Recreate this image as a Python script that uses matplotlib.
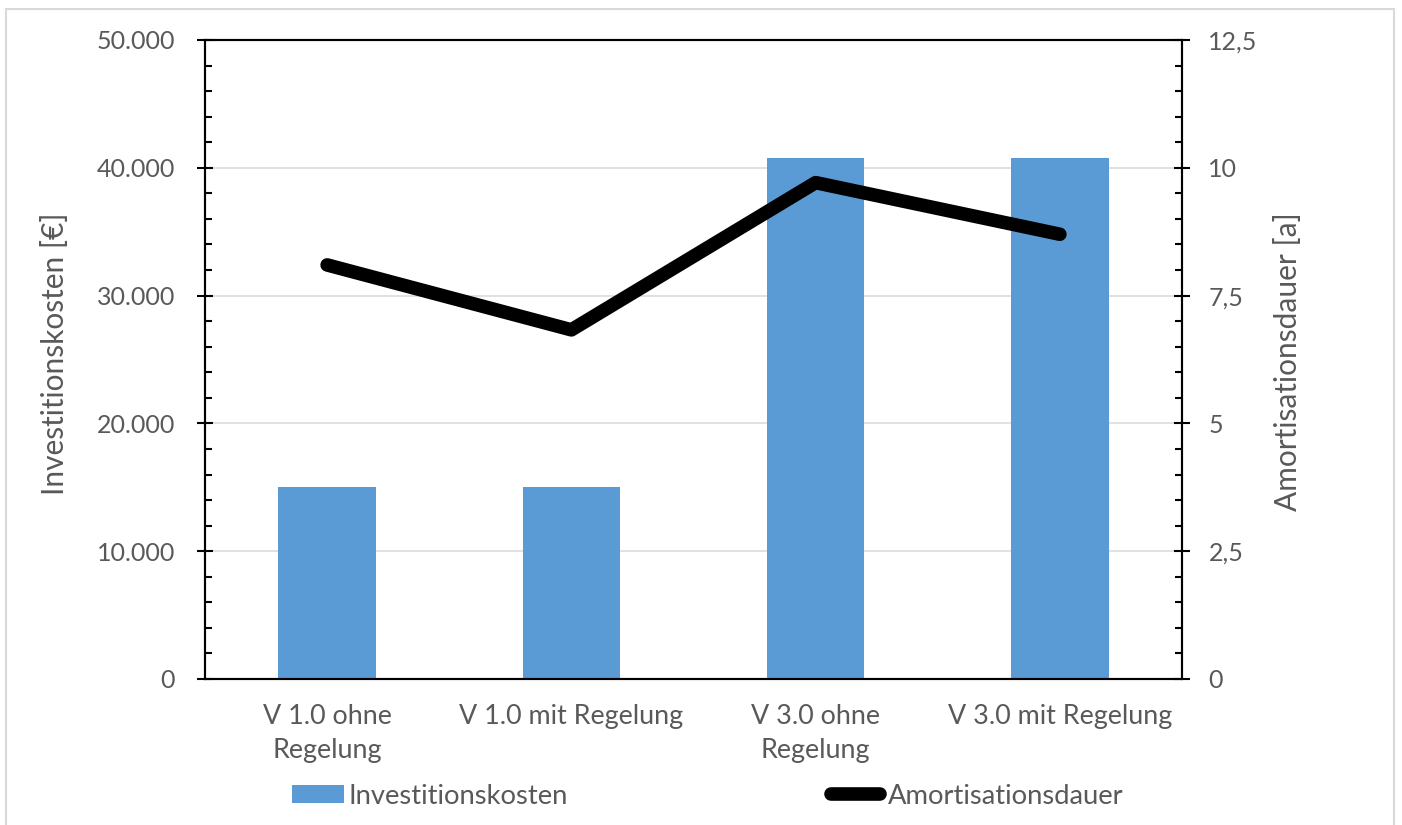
import matplotlib
matplotlib.use("Agg")
import matplotlib.pyplot as plt
from matplotlib.patches import Rectangle, Patch
from matplotlib.lines import Line2D
from matplotlib.ticker import FixedLocator, MultipleLocator, FuncFormatter

# --- data -------------------------------------------------------------
categories = ["V 1.0 ohne\nRegelung", "V 1.0 mit Regelung",
              "V 3.0 ohne\nRegelung", "V 3.0 mit Regelung"]
invest_costs = [15000, 15000, 40800, 40800]          # €
payback_years = [8.10, 6.83, 9.71, 8.70]             # a
left_ticks = [0, 10000, 20000, 30000, 40000, 50000]
right_ticks = [0, 2.5, 5, 7.5, 10, 12.5]
bar_label = "Investitionskosten"
line_label = "Amortisationsdauer"
left_title = "Investitionskosten [€]"
right_title = "Amortisationsdauer [a]"

# --- style ------------------------------------------------------------
W, H = 1402, 825
plt.rcParams["font.family"] = ["Lato", "DejaVu Sans"]
TXT = "#595959"
BAR = "#5B9BD5"
FS_Y = 18
FS_X = 19.4
FS_LEG = 19.7
FS_TITLE = 21.5

fig = plt.figure(figsize=(W / 100, H / 100), dpi=100)

# plot area in pixel coordinates
x0, x1, y_top, y_bot = 205, 1182, 40, 679
ax = fig.add_axes([x0 / W, 1 - y_bot / H, (x1 - x0) / W, (y_bot - y_top) / H])
ax2 = ax.twinx()

xpos = list(range(len(categories)))
ax.bar(xpos, invest_costs, width=0.4, color=BAR, zorder=2)
ax.set_xlim(-0.5, len(categories) - 0.5)
ax.set_ylim(0, 50000)

ax2.plot(xpos, payback_years, color="black", lw=9.8,
         solid_capstyle="round", solid_joinstyle="round", zorder=3)
ax2.set_ylim(0, 12.5)

# grid
ax.yaxis.set_major_locator(FixedLocator(left_ticks))
ax.grid(axis="y", color="#d9d9d9", lw=1.1, zorder=0)
ax.set_axisbelow(True)

# spines
for a in (ax, ax2):
    for s in a.spines.values():
        s.set_color("black")
        s.set_linewidth(1.5)

# left axis ticks
fmt_left = FuncFormatter(lambda v, p: f"{int(v):,}".replace(",", "."))
ax.yaxis.set_major_formatter(fmt_left)
ax.yaxis.set_minor_locator(MultipleLocator(2000))
ax.tick_params(axis="y", which="major", direction="inout", length=12,
               width=1.5, pad=15.5, labelsize=FS_Y, labelcolor=TXT)
ax.tick_params(axis="y", which="minor", direction="in", length=5, width=1.5)

# right axis ticks
fmt_right = FuncFormatter(lambda v, p: (f"{v:g}").replace(".", ","))
ax2.yaxis.set_major_locator(FixedLocator(right_ticks))
ax2.yaxis.set_major_formatter(fmt_right)
ax2.yaxis.set_minor_locator(MultipleLocator(0.5))
ax2.tick_params(axis="y", which="major", direction="inout", length=12,
                width=1.5, pad=13, labelsize=FS_Y, labelcolor=TXT)
ax2.tick_params(axis="y", which="minor", direction="in", length=5, width=1.5)

# category axis
ax.set_xticks(xpos)
ax.set_xticklabels(categories, fontsize=FS_X, color=TXT, linespacing=1.45)
ax.tick_params(axis="x", length=0, pad=18)

# axis titles
ax.set_ylabel(left_title, fontsize=FS_TITLE, color=TXT, va="center")
ax.yaxis.set_label_coords((55 - x0) / (x1 - x0), (y_bot - 354) / (y_bot - y_top))
ax2.set_ylabel(right_title, fontsize=FS_TITLE, color=TXT, va="center", rotation=90)
ax2.yaxis.set_label_coords((1288 - x0) / (x1 - x0), (y_bot - 362) / (y_bot - y_top))

# legends (two separately placed entries)
fig.legend(handles=[Patch(facecolor=BAR, label=bar_label)],
           loc="center left", bbox_to_anchor=(292 / W, 1 - 796 / H),
           frameon=False, fontsize=FS_LEG, borderpad=0, borderaxespad=0,
           handlelength=1.9, handleheight=0.62, handletextpad=0.15,
           labelcolor=TXT)
fig.legend(handles=[Line2D([], [], color="black", lw=9.8,
                           solid_capstyle="round", label=line_label)],
           loc="center left", bbox_to_anchor=(831.5 / W, 1 - 796 / H),
           frameon=False, fontsize=FS_LEG, borderpad=0, borderaxespad=0,
           handlelength=1.79, handletextpad=0.27, labelcolor=TXT)

# chart-area border
fig.add_artist(Rectangle((6 / W, -0.05), (1394 - 6) / W, 1.05 - 9 / H,
                         transform=fig.transFigure, fill=False,
                         edgecolor="#d9d9d9", lw=1.5, clip_on=False))

fig.savefig("out.png", dpi=100)
